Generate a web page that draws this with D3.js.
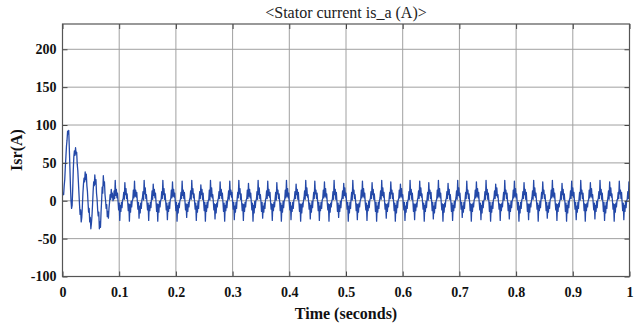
<!DOCTYPE html>
<html>
<head>
<meta charset="utf-8">
<script src="https://cdn.jsdelivr.net/npm/d3@7"></script>
<style>
  body { margin: 0; background: #fff; }
  text { font-family: "Times New Roman", "Liberation Serif", serif; }
</style>
</head>
<body>
<div id="chart"></div>
<script>
// sampled stator current, one value per millisecond
const timeStep = 0.001;
const xTicks = [0, 0.1, 0.2, 0.3, 0.4, 0.5, 0.6, 0.7, 0.8, 0.9, 1];
const xTickLabels = ["0", "0.1", "0.2", "0.3", "0.4", "0.5", "0.6", "0.7", "0.8", "0.9", "1"];
const yTicks = [-100, -50, 0, 50, 100, 150, 200];
const yTickLabels = ["-100", "-50", "0", "50", "100", "150", "200"];

// start-up transient, 0 .. 89 ms
const transientA = [
  8, 10, 8, 20, 28, 45, 58, 72, 80, 92,
  88, 93, 70, 45, 20, 0, -10, -6, 15, 40,
  58, 66, 60, 70, 62, 64, 48, 40, 25, 10,
  -5, -18, -12, -28, -22, -8, 10, 22, 30, 25,
  38, 28, 35, 20, 12, -2, -15, -10, -28, -22,
  -37, -30, -20, -5, 12, 25, 20, 34, 22, 28,
  10, 2, -12, -20, -15, -37, -28, -35, -15, 0,
  18, 10, 33, 20, 25, 8, 0, -10, -5, -21,
  -14, -23, -10, -2, 8, 2, 15, 5, 10, 0
];

// steady state, 90 .. 1000 ms (one cycle per line)
const steadyA = [
  2,13,3,27,7,15,4,10,-1,-12,-3,-26,-6,-14,-2,-9,1,
  3,11,2,24,8,16,3,9,-2,-13,-4,-27,-5,-15,-1,-8,0,
  2,14,4,26,6,14,5,11,-1,-11,-2,-23,-7,-16,-3,-10,1,
  4,12,1,27,9,17,3,8,-3,-12,-3,-26,-6,-13,-2,-9,
  3,13,2,22,7,15,4,10,-2,-14,-4,-27,-5,-15,-1,-8,0,
  2,12,3,27,8,16,2,9,-1,-12,-3,-25,-7,-14,-2,-10,1,
  3,14,4,25,6,15,5,10,-2,-13,-2,-27,-6,-16,-3,-9,0,
  2,11,3,26,7,14,3,11,-1,-12,-4,-22,-5,-14,-2,-8,1,
  4,13,2,27,9,16,4,9,-2,-11,-3,-26,-7,-15,-1,-10,
  3,12,3,21,8,15,2,10,-3,-13,-2,-27,-6,-14,-2,-9,0,
  2,14,1,27,6,17,4,8,-1,-12,-4,-24,-5,-16,-3,-8,1,
  3,12,3,25,7,15,3,10,-2,-14,-3,-27,-6,-13,-1,-9,0,
  4,13,2,26,8,14,5,11,-1,-11,-2,-25,-7,-15,-2,-10,
  2,11,4,27,9,16,2,9,-3,-13,-4,-26,-5,-14,-2,-8,1,
  3,14,3,23,6,15,4,10,-2,-12,-3,-27,-6,-16,-1,-9,0,
  2,12,2,27,8,17,3,8,-1,-14,-2,-23,-7,-15,-3,-10,1,
  4,13,3,26,7,15,5,11,-2,-11,-4,-26,-5,-13,-2,-8,
  3,11,1,24,9,14,3,9,-1,-13,-3,-27,-6,-15,-1,-9,0,
  2,14,4,27,6,16,4,10,-3,-12,-2,-25,-7,-14,-2,-10,1,
  3,12,3,22,8,15,2,11,-2,-14,-4,-27,-5,-16,-3,-8,0,
  4,13,2,27,7,17,5,8,-1,-11,-3,-24,-6,-15,-1,-9,
  2,11,3,26,9,14,3,10,-2,-13,-2,-26,-7,-13,-2,-10,1,
  3,14,4,25,6,16,4,9,-3,-12,-4,-27,-5,-15,-3,-8,0,
  2,12,2,27,8,15,2,11,-1,-14,-3,-22,-6,-14,-1,-9,1,
  4,13,3,23,7,17,5,10,-2,-11,-2,-27,-7,-16,-2,-10,
  3,11,1,27,9,14,3,8,-1,-13,-4,-25,-5,-15,-3,-8,0,
  2,14,4,26,6,16,4,10,-3,-12,-3,-26,-6,-13,-1,-9,1,
  3,12,3,24,8,15,2,9,-2,-14,-2,-27,-7,-15,-2,-10,0,
  4,13,2,27,7,17,5,11,-1,-11,-4,-23,-5,-14,-3,-8,
  2,11,3,25,9,14,3,10,-2,-13,-3,-27,-6,-16,-1,-9,1,
  3,14,4,22,6,16,4,8,-3,-12,-2,-26,-7,-15,-2,-10,0,
  2,12,2,27,8,15,2,10,-1,-14,-4,-25,-5,-13,-3,-8,1,
  4,13,3,26,7,17,5,9,-2,-11,-3,-27,-6,-14,-1,-9,
  3,11,1,24,9,14,3,11,-1,-13,-2,-24,-7,-16,-2,-10,0,
  2,14,4,27,6,16,4,10,-3,-12,-4,-27,-5,-15,-3,-8,1,
  3,12,3,23,8,15,2,8,-2,-14,-3,-26,-6,-13,-1,-9,0,
  4,13,2,27,7,17,5,10,-1,-11,-2,-22,-7,-15,-2,-10,
  2,11,3,26,9,14,3,9,-2,-13,-4,-27,-5,-14,-3,-8,1,
  3,14,4,25,6,16,4,11,-3,-12,-3,-25,-6,-16,-1,-9,0,
  2,12,2,27,8,15,2,10,-1,-14,-2,-27,-7,-15,-2,-10,1,
  4,13,3,22,7,17,5,8,-2,-11,-4,-26,-5,-13,-3,-8,
  3,11,1,27,9,14,3,10,-1,-13,-3,-24,-6,-14,-1,-9,0,
  2,14,4,26,6,16,4,9,-3,-12,-2,-27,-7,-16,-2,-10,1,
  3,12,3,24,8,15,2,11,-2,-14,-4,-25,-5,-15,-3,-8,0,
  4,13,2,27,7,17,5,10,-1,-11,-3,-27,-6,-13,-1,-9,
  2,11,3,25,9,14,3,8,-2,-13,-2,-23,-7,-15,-2,-10,1,
  3,14,4,27,6,16,4,10,-3,-12,-4,-26,-5,-14,-3,-8,0,
  2,12,2,23,8,15,2,9,-1,-14,-3,-27,-6,-16,-1,-9,1,
  4,13,3,26,7,17,5,11,-2,-11,-2,-25,-7,-15,-2,-10,
  3,11,1,27,9,14,3,10,-1,-13,-4,-27,-5,-13,-3,-8,0,
  2,14,4,24,6,16,4,8,-3,-12,-3,-24,-6,-14,-1,-9,1,
  3,12,3,27,8,15,2,10,-2,-14,-2,-26,-7,-16,-2,-10,0,
  4,13,2,25,7,17,5,9,-1,-11,-4,-27,-5,-15,-3,-8,1,
  2,11,3,26,9,14,3,11,-2,-13,-3,-25,-6,-14,-1,-9,0,
  2,12,3,25,6
];

const margin = {top: 24, right: 5.5, bottom: 47.5, left: 62.5};
const width = 635 - margin.left - margin.right;
const height = 324 - margin.top - margin.bottom;

const samples = transientA.concat(steadyA).map(function(v, i) {
  return {t: i * timeStep, v: v};
});

const x = d3.scaleLinear().domain([0, 1]).range([0, width]);
const y = d3.scaleLinear().domain([-100, 233.4]).range([height, 0]);

const svg = d3.select("#chart").append("svg")
    .attr("width", 635)
    .attr("height", 324)
    .style("background", "#fff");

const g = svg.append("g")
    .attr("transform", "translate(" + margin.left + "," + margin.top + ")");

// grid
g.selectAll(".vgrid")
    .data(xTicks)
  .enter().append("line")
    .attr("x1", d => x(d)).attr("x2", d => x(d))
    .attr("y1", 0).attr("y2", height)
    .attr("stroke", "#a0a0a0").attr("stroke-width", 1);
g.selectAll(".hgrid")
    .data(yTicks)
  .enter().append("line")
    .attr("x1", 0).attr("x2", width)
    .attr("y1", d => y(d)).attr("y2", d => y(d))
    .attr("stroke", "#a0a0a0").attr("stroke-width", 1);

// signal
svg.append("defs").append("clipPath").attr("id", "plotclip")
  .append("rect").attr("width", width).attr("height", height);

const line = d3.line()
    .x(d => x(d.t))
    .y(d => y(d.v));

g.append("path")
    .datum(samples)
    .attr("clip-path", "url(#plotclip)")
    .attr("fill", "none")
    .attr("stroke", "#2449a8")
    .attr("stroke-width", 1.3)
    .attr("stroke-linejoin", "round")
    .attr("d", line);

// axes with inward ticks
const tickFont = function(sel) {
  sel.select(".domain").remove();
  sel.selectAll(".tick line").attr("stroke", "#444");
  sel.selectAll("text")
    .style("font-family", '"Times New Roman", "Liberation Serif", serif')
    .style("font-size", "14px")
    .style("font-weight", "bold")
    .attr("fill", "#111");
};

g.append("g")
    .call(d3.axisLeft(y).tickValues(yTicks).tickSize(-5).tickPadding(6)
      .tickFormat((d, i) => yTickLabels[i]))
    .call(tickFont);

g.append("g")
    .attr("transform", "translate(" + width + ",0)")
    .call(d3.axisRight(y).tickValues(yTicks).tickSize(-5).tickFormat(""))
    .call(tickFont);

g.append("g")
    .attr("transform", "translate(0," + height + ")")
    .call(d3.axisBottom(x).tickValues(xTicks).tickSize(-5).tickPadding(11)
      .tickFormat((d, i) => xTickLabels[i]))
    .call(tickFont);

g.append("g")
    .call(d3.axisTop(x).tickValues(xTicks).tickSize(-5).tickFormat(""))
    .call(tickFont);

// frame
g.append("rect")
    .attr("width", width).attr("height", height)
    .attr("fill", "none")
    .attr("stroke", "#555")
    .attr("stroke-width", 1.2);

// title and labels
svg.append("text")
    .attr("x", margin.left + width / 2)
    .attr("y", 18)
    .attr("text-anchor", "middle")
    .style("font-size", "16px")
    .attr("fill", "#222")
    .text("<Stator current is_a (A)>");

svg.append("text")
    .attr("x", margin.left + width / 2)
    .attr("y", 319)
    .attr("text-anchor", "middle")
    .style("font-size", "16px")
    .style("font-weight", "bold")
    .attr("fill", "#111")
    .text("Time (seconds)");

svg.append("text")
    .attr("transform", "translate(22,150) rotate(-90)")
    .attr("text-anchor", "middle")
    .style("font-size", "16px")
    .style("font-weight", "bold")
    .attr("fill", "#111")
    .text("Isr(A)");
</script>
</body>
</html>
